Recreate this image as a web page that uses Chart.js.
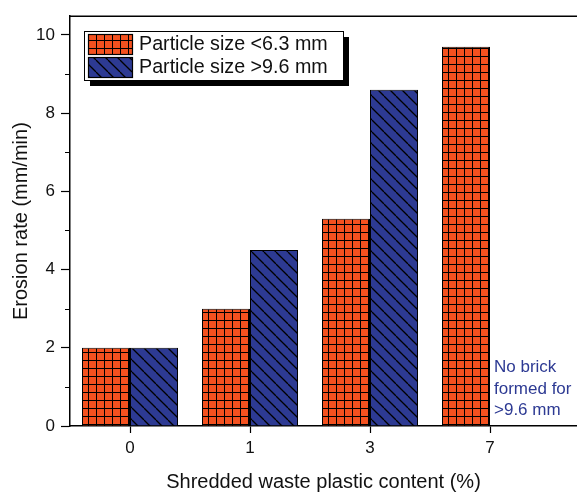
<!DOCTYPE html>
<html>
<head>
<meta charset="utf-8">
<script src="https://cdn.jsdelivr.net/npm/chart.js@4/dist/chart.umd.min.js"></script>
<style>
html, body { margin: 0; padding: 0; background: #fff; overflow: hidden; }
</style>
</head>
<body>
<canvas id="erosionChart" width="577" height="492"></canvas>
<script>
const categories = ['0', '1', '3', '7'];
const seriesLabels = ['Particle size <6.3 mm', 'Particle size >9.6 mm'];
const smallParticleRates = [2.0, 3.0, 5.3, 9.7];
const largeParticleRates = [2.0, 4.5, 8.6, null]; // no brick formed at 7 %
const yLabelledTicks = [0, 2, 4, 6, 8, 10];
const yMinorTicks = [1, 3, 5, 7, 9];
const noteLines = ['No brick', 'formed for', '>9.6 mm'];

const fontFamily = '"Liberation Sans", Arial, Helvetica, sans-serif';
const orange = '#f4511f';
const navy = '#2d3a93';

// grid pattern for the orange bars
function gridPattern() {
    const c = document.createElement('canvas');
    c.width = 8; c.height = 8;
    const g = c.getContext('2d');
    g.fillStyle = orange;
    g.fillRect(0, 0, 8, 8);
    g.fillStyle = '#000';
    g.fillRect(0, 0, 8, 1);
    g.fillRect(0, 0, 1, 8);
    return g.createPattern(c, 'repeat');
}

// "\" hatch pattern for the navy bars
function hatchPattern() {
    const s = 12;
    const c = document.createElement('canvas');
    c.width = s; c.height = s;
    const g = c.getContext('2d');
    g.fillStyle = navy;
    g.fillRect(0, 0, s, s);
    g.strokeStyle = '#000';
    g.lineWidth = 1.3;
    for (const k of [-s, 0, s]) {
        g.beginPath();
        g.moveTo(k, 0);
        g.lineTo(k + s, s);
        g.stroke();
    }
    return g.createPattern(c, 'repeat');
}

const frameAndLegend = {
    id: 'frameAndLegend',
    afterDraw(chart) {
        const ctx = chart.ctx;
        const area = chart.chartArea;
        const yScale = chart.scales.y;
        ctx.save();

        // top frame line
        ctx.strokeStyle = '#000';
        ctx.lineWidth = 1.5;
        ctx.beginPath();
        ctx.moveTo(area.left, area.top);
        ctx.lineTo(area.right, area.top);
        ctx.stroke();

        // minor y ticks
        ctx.lineWidth = 1;
        yMinorTicks.forEach(v => {
            const py = Math.round(yScale.getPixelForValue(v)) + 0.5;
            ctx.beginPath();
            ctx.moveTo(area.left - 5, py);
            ctx.lineTo(area.left, py);
            ctx.stroke();
        });

        // legend box with shadow
        const bx = 84, by = 31, bw = 259, bh = 49;
        ctx.fillStyle = '#000';
        ctx.fillRect(bx + 6, by + 6, bw, bh);
        ctx.fillStyle = '#fff';
        ctx.fillRect(bx, by, bw, bh);
        ctx.strokeStyle = '#000';
        ctx.lineWidth = 1;
        ctx.strokeRect(bx + 0.5, by + 0.5, bw, bh);

        ctx.font = '19.7px ' + fontFamily;
        ctx.textBaseline = 'middle';
        chart.data.datasets.forEach((ds, i) => {
            const sy = 34 + i * 23;
            ctx.fillStyle = ds.backgroundColor;
            ctx.fillRect(88, sy, 45, 21);
            ctx.strokeStyle = '#000';
            ctx.lineWidth = 1.2;
            ctx.strokeRect(88.5, sy + 0.5, 44, 20);
            ctx.fillStyle = '#111';
            ctx.fillText(ds.label, 139, sy + 11);
        });

        // note for the missing bar
        ctx.fillStyle = navy;
        ctx.font = '17px ' + fontFamily;
        ctx.textBaseline = 'alphabetic';
        noteLines.forEach((line, i) => {
            ctx.fillText(line, 494, 372 + i * 21.5);
        });
        ctx.restore();
    }
};

const ctx1 = document.getElementById('erosionChart').getContext('2d');
const erosionChart = new Chart(ctx1, {
    type: 'bar',
    data: {
        datasets: [{
            label: seriesLabels[0],
            data: smallParticleRates.map((v, i) => ({ x: i, y: v })),
            backgroundColor: gridPattern(),
            borderColor: '#000',
            borderWidth: 1
        },
        {
            label: seriesLabels[1],
            data: largeParticleRates.map((v, i) => ({ x: i, y: v })),
            backgroundColor: hatchPattern(),
            borderColor: '#000',
            borderWidth: 1
        }]
    },
    options: {
        responsive: false,
        animation: false,
        events: [],
        categoryPercentage: 0.8,
        barPercentage: 1.0,
        layout: { padding: { top: 10, right: 0, bottom: 0, left: 0 } },
        plugins: {
            legend: { display: false },
            tooltip: { enabled: false }
        },
        scales: {
            x: {
                type: 'linear',
                offset: false,
                min: -0.5,
                max: -0.5 + 507 / 120,
                afterBuildTicks: scale => {
                    scale.ticks = categories.map((c, i) => ({ value: i }));
                },
                afterFit: scale => { scale.height = 66; },
                ticks: {
                    callback: v => categories[v],
                    font: { family: fontFamily, size: 17 },
                    color: '#111',
                    padding: 5,
                    maxRotation: 0
                },
                grid: {
                    offset: false,
                    drawOnChartArea: false,
                    tickLength: 7,
                    tickColor: '#000',
                    tickWidth: 1.2
                },
                border: { color: '#000', width: 1.5 },
                title: {
                    display: true,
                    text: 'Shredded waste plastic content (%)',
                    font: { family: fontFamily, size: 20, lineHeight: 1 },
                    color: '#111',
                    padding: { top: 0, bottom: 0 }
                }
            },
            y: {
                min: 0,
                max: 10.48,
                afterBuildTicks: scale => {
                    scale.ticks = yLabelledTicks.map(v => ({ value: v }));
                },
                afterFit: scale => { scale.width = 70; },
                ticks: {
                    callback: v => String(v),
                    font: { family: fontFamily, size: 17 },
                    color: '#111',
                    padding: 6
                },
                grid: {
                    drawOnChartArea: false,
                    tickLength: 9,
                    tickColor: '#000',
                    tickWidth: 1.2
                },
                border: { color: '#000', width: 1.5 },
                title: {
                    display: true,
                    text: 'Erosion rate (mm/min)',
                    font: { family: fontFamily, size: 20, lineHeight: 1 },
                    color: '#111',
                    padding: { top: 11, bottom: 0 }
                }
            }
        }
    },
    plugins: [frameAndLegend]
});
</script>
</body>
</html>
